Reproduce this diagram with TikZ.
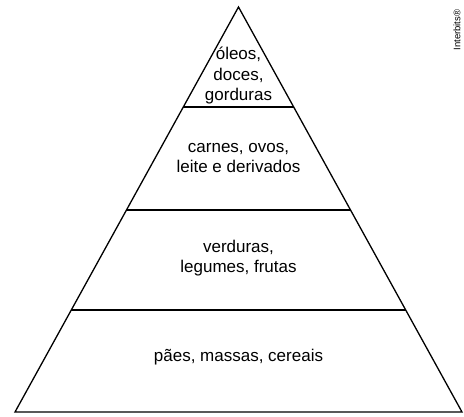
\documentclass[tikz,border=0pt]{standalone}
\usepackage{fontspec}
\setmainfont{Liberation Sans}
\usetikzlibrary{calc}
\begin{document}
\begin{tikzpicture}[x=1pt,y=-1pt,
        camada/.style={align=center,font=\fontsize{17}{20.5}\selectfont},
        borda/.style={line width=1.3pt,line join=miter}]
        \useasboundingbox (0,0) rectangle (464,416);

        \coordinate (topo) at (238.5,7);
        \coordinate (esq) at (15,412);
        \coordinate (dir) at (462,412);

        \draw[borda] (esq) -- (topo) -- (dir) -- cycle;

        \foreach \y in {107,210,310} {
            \draw[line width=1.2pt] ($(topo)!{(\y-7)/405}!(esq)$) -- ($(topo)!{(\y-7)/405}!(dir)$);
        }

        \node[camada] (oleos) at (238.5,76) {óleos,\\doces,\\gorduras};
        \node[camada] (carnes) at (238.5,158) {carnes, ovos,\\leite e derivados};
        \node[camada] (verduras) at (238.5,258) {verduras,\\legumes, frutas};
        \node[camada] (paes) at (238.5,357) {pães, massas, cereais};

        \node[rotate=90,font=\fontsize{9.5}{11}\selectfont] (marca) at (457,30) {Interbits®};
    \end{tikzpicture}
\end{document}
